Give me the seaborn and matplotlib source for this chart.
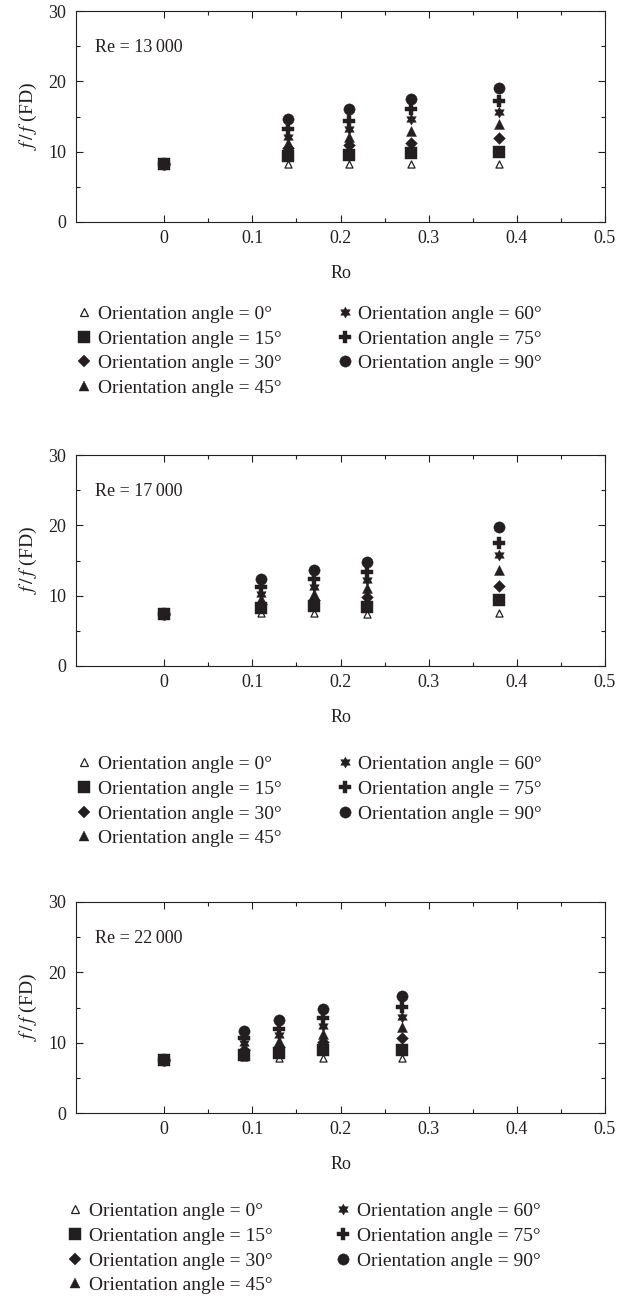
import math
import matplotlib
matplotlib.use("Agg")
import matplotlib.pyplot as plt
from matplotlib.lines import Line2D
import seaborn as sns
import pandas as pd

# orientation angles (degrees) and legend text
ANGLES = [0, 15, 30, 45, 60, 75, 90]
ANGLE_LABELS = [f"Orientation angle = {a}\u00b0" for a in ANGLES]

RE_LABELS = ["Re = 13\u2009000", "Re = 17\u2009000", "Re = 22\u2009000"]

# Re = 13 000 : one row per orientation angle
RO_13000 = [0, 0.14, 0.21, 0.28, 0.38]
F_13000 = [
    [8.3, 8.3, 8.3, 8.3, 8.3],
    [8.3, 9.4, 9.5, 9.8, 10.0],
    [8.3, 10.5, 10.9, 11.3, 12.0],
    [8.3, 11.3, 12.1, 13.0, 13.9],
    [8.3, 12.1, 13.2, 14.6, 15.7],
    [8.3, 13.2, 14.4, 16.0, 17.2],
    [8.3, 14.6, 16.0, 17.5, 19.1],
]

# Re = 17 000
RO_17000 = [0, 0.11, 0.17, 0.23, 0.38]
F_17000 = [
    [7.4, 7.5, 7.5, 7.4, 7.5],
    [7.4, 8.2, 8.5, 8.4, 9.4],
    [7.4, 8.8, 9.4, 9.8, 11.4],
    [7.4, 9.5, 10.3, 11.1, 13.6],
    [7.4, 10.3, 11.3, 12.2, 15.8],
    [7.4, 11.2, 12.4, 13.4, 17.5],
    [7.4, 12.4, 13.7, 14.8, 19.7],
]

# Re = 22 000
RO_22000 = [0, 0.09, 0.13, 0.18, 0.27]
F_22000 = [
    [7.6, 7.9, 7.8, 7.8, 7.8],
    [7.6, 8.3, 8.6, 8.9, 9.0],
    [7.6, 8.9, 9.4, 10.1, 10.6],
    [7.6, 9.4, 10.2, 11.2, 12.2],
    [7.6, 10.0, 11.1, 12.3, 13.7],
    [7.6, 10.6, 11.9, 13.5, 15.1],
    [7.6, 11.6, 13.2, 14.8, 16.6],
]

XTICKS = [0, 0.1, 0.2, 0.3, 0.4, 0.5]
XTICK_LABELS = ["0", "0.1", "0.2", "0.3", "0.4", "0.5"]
YTICKS = [0, 10, 20, 30]

INK = "#231f20"

# six-pointed star (hexagram) outline
HEXAGRAM = [((1.0 if k % 2 == 0 else 1 / math.sqrt(3)) * math.cos(math.radians(90 + 30 * k)),
             (1.0 if k % 2 == 0 else 1 / math.sqrt(3)) * math.sin(math.radians(90 + 30 * k)))
            for k in range(12)]

STYLES = [
    dict(marker="^", s=26, fc="white", lw=0.9, z=2),
    dict(marker="s", s=72, fc=INK, lw=0.3, z=4),
    dict(marker="D", s=36, fc=INK, lw=0.3, z=3),
    dict(marker="^", s=52, fc=INK, lw=0.3, z=3),
    dict(marker=HEXAGRAM, s=64, fc=INK, lw=0.3, z=3),
    dict(marker="P", s=72, fc=INK, lw=0.3, z=3),
    dict(marker="o", s=66, fc=INK, lw=0.3, z=3),
]

sns.set_style("ticks")
plt.rcParams["font.family"] = ["Liberation Serif", "DejaVu Serif"]
plt.rcParams["mathtext.fontset"] = "stix"
plt.rcParams["axes.linewidth"] = 0.8


def draw_panel(ax, ro, values, re_label, leg_x, leg_y, colspace):
    rows = []
    for a, vals in zip(ANGLES, values):
        for r, v in zip(ro, vals):
            rows.append((r, v, a))
    df = pd.DataFrame(rows, columns=["Ro", "f", "angle"])

    for a, st in zip(ANGLES, STYLES):
        sub = df[df["angle"] == a]
        sns.scatterplot(data=sub, x="Ro", y="f", marker=st["marker"], s=st["s"],
                        facecolor=st["fc"], edgecolor=INK, linewidth=st["lw"],
                        zorder=st["z"], legend=False, ax=ax)

    ax.set_xlim(-0.1, 0.5)
    ax.set_ylim(0, 30)
    ax.set_xticks(XTICKS)
    ax.set_xticklabels(XTICK_LABELS)
    ax.set_xticks([0.05, 0.15, 0.25, 0.35, 0.45], minor=True)
    ax.set_yticks(YTICKS)
    ax.set_yticks([5, 15, 25], minor=True)
    ax.tick_params(which="both", direction="in", top=True, right=True,
                   labelsize=13, colors=INK, width=0.8)
    ax.tick_params(which="major", length=5)
    ax.tick_params(which="minor", length=3)
    ax.tick_params(axis="x", pad=6)
    ax.tick_params(axis="y", pad=7)
    for sp in ax.spines.values():
        sp.set_color(INK)
    ax.set_xlabel("Ro", fontsize=13, color=INK, labelpad=13)
    ax.set_ylabel(r"$f\,/\,f$ (FD)", fontsize=14, color=INK, labelpad=7)
    ax.text(0.035, 0.827, re_label, transform=ax.transAxes, ha="left",
            va="center", fontsize=13, color=INK)

    handles = []
    for st in STYLES:
        handles.append(Line2D([], [], linestyle="none", marker=st["marker"],
                              markersize=st["s"] ** 0.5, markerfacecolor=st["fc"],
                              markeredgecolor=INK, markeredgewidth=st["lw"]))
    leg = ax.legend(handles, ANGLE_LABELS, ncol=2, loc="upper left",
                    bbox_to_anchor=(leg_x, leg_y), frameon=False, fontsize=14,
                    borderpad=0, borderaxespad=0, handlelength=1.0,
                    handletextpad=0.2, columnspacing=colspace, labelspacing=0.36)
    for t in leg.get_texts():
        t.set_color(INK)


fig = plt.figure(figsize=(6.29, 12.97), dpi=100)
left, width, height = 76 / 629, 529 / 629, 211 / 1297
ax1 = fig.add_axes([left, 1 - 222 / 1297, width, height])
ax2 = fig.add_axes([left, 1 - 666 / 1297, width, height])
ax3 = fig.add_axes([left, 1 - 1113 / 1297, width, height])

draw_panel(ax1, RO_13000, F_13000, RE_LABELS[0], -0.003, -0.395, 2.76)
draw_panel(ax2, RO_17000, F_17000, RE_LABELS[1], -0.003, -0.425, 2.76)
draw_panel(ax3, RO_22000, F_22000, RE_LABELS[2], -0.020, -0.425, 3.15)

fig.savefig("out.png", dpi=100)
plt.close(fig)
